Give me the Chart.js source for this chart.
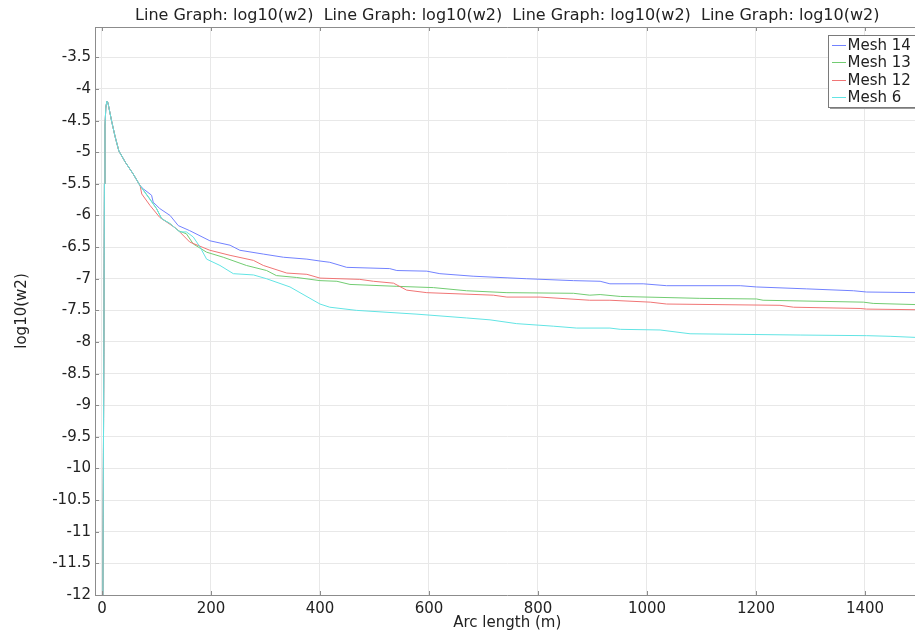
<!DOCTYPE html>
<html>
<head>
<meta charset="utf-8">
<script src="https://cdn.jsdelivr.net/npm/chart.js@4/dist/chart.umd.min.js"></script>
<style>
  html, body { margin: 0; padding: 0; background: #fff; overflow: hidden; }
  #wrap { width: 915px; height: 635px; overflow: hidden; }
</style>
</head>
<body>
<div id="wrap"><canvas id="c" width="940" height="635"></canvas></div>
<script>
// shared rise + peak, all meshes follow it until ~70 m
const headX = [1.5, 3.5, 4.5, 5.5, 7, 9, 11, 14, 18, 24, 31, 43, 57, 70];
const headY = [-12.3, -8, -5.5, -4.6, -4.3, -4.19, -4.22, -4.35, -4.52, -4.75, -4.98, -5.16, -5.34, -5.53];

const mesh14X = [76, 91, 94, 106, 125, 140, 161, 198, 235, 253, 296, 333, 376, 400, 418, 449, 528, 541, 596, 620, 681, 779, 865, 914, 932, 993, 1036, 1171, 1201, 1293, 1379, 1403, 1500];
const mesh14Y = [-5.58, -5.68, -5.79, -5.89, -6.0, -6.16, -6.24, -6.40, -6.47, -6.55, -6.61, -6.66, -6.69, -6.72, -6.74, -6.82, -6.84, -6.87, -6.88, -6.92, -6.96, -7.0, -7.03, -7.04, -7.08, -7.08, -7.11, -7.11, -7.13, -7.16, -7.19, -7.21, -7.22];

const mesh13X = [88, 100, 109.5, 125, 140, 155, 167.5, 192, 222.5, 265, 302, 320, 357, 400, 431, 455, 541, 608, 669, 743, 865, 895, 914, 951, 1097, 1201, 1213, 1397, 1415, 1500];
const mesh13Y = [-5.74, -5.89, -6.05, -6.13, -6.24, -6.29, -6.45, -6.58, -6.66, -6.79, -6.87, -6.95, -6.98, -7.03, -7.04, -7.09, -7.12, -7.14, -7.19, -7.22, -7.23, -7.26, -7.25, -7.28, -7.31, -7.32, -7.34, -7.37, -7.39, -7.41];

const mesh12X = [73, 88, 106, 137, 161, 198, 235, 278, 296, 339, 376, 400, 473, 498, 535, 559, 596, 718, 743, 804, 895, 932, 1006, 1036, 1244, 1269, 1391, 1403, 1500];
const mesh12Y = [-5.66, -5.84, -6.03, -6.21, -6.42, -6.55, -6.63, -6.71, -6.79, -6.91, -6.93, -6.99, -7.01, -7.04, -7.07, -7.18, -7.22, -7.26, -7.29, -7.29, -7.34, -7.34, -7.37, -7.40, -7.42, -7.45, -7.47, -7.48, -7.49];

const mesh6X = [85, 100, 109.5, 125, 143, 155, 167.5, 180, 192, 216.5, 241, 278, 302, 345, 400, 418, 467, 578, 669, 712, 761, 828, 871, 932, 951, 1024, 1079, 1281, 1403, 1446, 1500];
const mesh6Y = [-5.71, -5.89, -6.05, -6.13, -6.26, -6.26, -6.34, -6.50, -6.69, -6.79, -6.92, -6.94, -7.0, -7.13, -7.40, -7.45, -7.50, -7.56, -7.62, -7.65, -7.71, -7.75, -7.78, -7.78, -7.80, -7.81, -7.87, -7.89, -7.90, -7.91, -7.93];

const xTicks = [0, 200, 400, 600, 800, 1000, 1200, 1400];
const yTicks = [-12, -11.5, -11, -10.5, -10, -9.5, -9, -8.5, -8, -7.5, -7, -6.5, -6, -5.5, -5, -4.5, -4, -3.5];

const FONT = 'DejaVu Sans';
const frameColor = '#8c8c8c';
const gridColor = '#e8e8e8';

function pts(xs, ys) {
  const all = headX.map((x, i) => ({x: x, y: headY[i]}));
  return all.concat(xs.map((x, i) => ({x: x, y: ys[i]})));
}

function series(label, xs, ys, color, order) {
  return {
    label: label,
    data: pts(xs, ys),
    borderColor: color,
    backgroundColor: color,
    borderWidth: 1,
    pointRadius: 0,
    tension: 0,
    order: order
  };
}

// top border, inner tick marks and the boxed legend
const frame = {
  id: 'frame',
  afterDraw(chart) {
    const ctx = chart.ctx;
    const a = chart.chartArea;
    const xs = chart.scales.x, ys = chart.scales.y;
    ctx.save();
    ctx.strokeStyle = frameColor;
    ctx.lineWidth = 1;
    ctx.beginPath();
    ctx.moveTo(a.left, a.top + 0.5);
    ctx.lineTo(a.right, a.top + 0.5);
    xTicks.forEach(v => {
      const px = Math.round(xs.getPixelForValue(v)) + 0.5;
      ctx.moveTo(px, a.top); ctx.lineTo(px, a.top + 4);
      ctx.moveTo(px, a.bottom); ctx.lineTo(px, a.bottom - 4);
    });
    yTicks.forEach(v => {
      const py = Math.round(ys.getPixelForValue(v)) + 0.5;
      ctx.moveTo(a.left, py); ctx.lineTo(a.left + 4, py);
    });
    ctx.stroke();

    // legend box
    const bx = 828, by = 35, bw = 110, bh = 72;
    ctx.fillStyle = '#9a9a9a';
    ctx.fillRect(bx + 2, by + 2, bw, bh);
    ctx.fillStyle = '#fff';
    ctx.fillRect(bx, by, bw, bh);
    ctx.strokeStyle = '#7a7a7a';
    ctx.strokeRect(bx + 0.5, by + 0.5, bw, bh);
    ctx.font = '15px "' + FONT + '"';
    ctx.textBaseline = 'middle';
    ctx.textAlign = 'left';
    chart.data.datasets.forEach((d, i) => {
      const ry = Math.round(by + 10 + i * 17.3) + 0.5;
      ctx.strokeStyle = d.borderColor;
      ctx.lineWidth = 1;
      ctx.beginPath();
      ctx.moveTo(832, ry); ctx.lineTo(846, ry);
      ctx.stroke();
      ctx.fillStyle = '#222';
      ctx.fillText(d.label, 847.5, ry + 1);
    });
    ctx.restore();
  }
};

new Chart(document.getElementById('c'), {
  type: 'line',
  data: {
    datasets: [
      series('Mesh 14', mesh14X, mesh14Y, '#7282ff', 3),
      series('Mesh 13', mesh13X, mesh13Y, '#72cc72', 2),
      series('Mesh 12', mesh12X, mesh12Y, '#f07575', 1),
      series('Mesh 6', mesh6X, mesh6Y, '#62e4e4', 0)
    ]
  },
  options: {
    responsive: false,
    animation: false,
    layout: { padding: { left: 0, right: 20.5, top: 0, bottom: 0 } },
    plugins: {
      legend: { display: false },
      tooltip: { enabled: false },
      title: {
        display: true,
        fullSize: false,
        text: 'Line Graph: log10(w2)  Line Graph: log10(w2)  Line Graph: log10(w2)  Line Graph: log10(w2)',
        color: '#222',
        font: { family: FONT, size: 16, weight: 'normal' },
        padding: { top: 6.5, bottom: 1.3 }
      }
    },
    scales: {
      x: {
        type: 'linear',
        min: -12.8,
        max: 1500,
        afterBuildTicks(scale) { scale.ticks = xTicks.map(v => ({value: v})); },
        afterFit(scale) { scale.height = 40; },
        grid: { color: gridColor, drawTicks: false },
        border: { display: true, color: frameColor, width: 1 },
        ticks: { color: '#222', font: { family: FONT, size: 15 }, padding: 5, maxRotation: 0, autoSkip: false,
                 callback: v => String(v) },
        title: {
          display: true,
          text: 'Arc length (m)',
          color: '#222',
          font: { family: FONT, size: 15 },
          padding: { top: 0, bottom: 2.5 }
        }
      },
      y: {
        type: 'linear',
        min: -12,
        max: -3.02,
        afterBuildTicks(scale) { scale.ticks = yTicks.map(v => ({value: v})); },
        afterFit(scale) { scale.width = 95; },
        grid: { color: gridColor, drawTicks: false },
        border: { display: true, color: frameColor, width: 1 },
        ticks: { color: '#222', font: { family: FONT, size: 15 }, padding: 4, autoSkip: false,
                 callback: v => String(v) },
        title: {
          display: true,
          text: 'log10(w2)',
          color: '#222',
          font: { family: FONT, size: 15 },
          padding: { top: 13, bottom: 0 }
        }
      }
    }
  },
  plugins: [frame]
});
</script>
</body>
</html>
